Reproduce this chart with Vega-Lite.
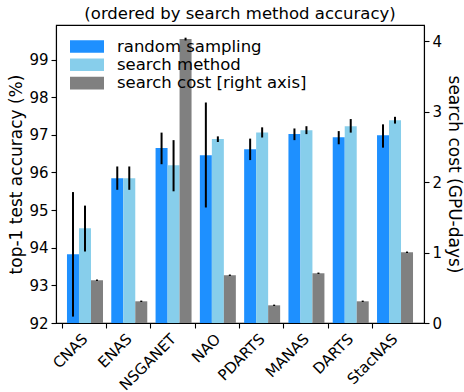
{
  "$schema": "https://vega.github.io/schema/vega-lite/v6.json",
  "autosize": {"type": "none"},
  "width": 368,
  "height": 298,
  "padding": {"left": 56, "top": 25, "right": 40, "bottom": 69},
  "title": {
    "text": "(ordered by search method accuracy)",
    "fontSize": 16.5,
    "fontWeight": "normal",
    "color": "black",
    "offset": 3
  },
  "datasets": {
    "acc": [
      {"method": "CNAS", "series": "random sampling", "value": 93.83, "lo": 92.17, "hi": 95.48},
      {"method": "CNAS", "series": "search method", "value": 94.52, "lo": 93.9, "hi": 95.12},
      {"method": "ENAS", "series": "random sampling", "value": 95.85, "lo": 95.54, "hi": 96.16},
      {"method": "ENAS", "series": "search method", "value": 95.85, "lo": 95.54, "hi": 96.16},
      {"method": "NSGANET", "series": "random sampling", "value": 96.65, "lo": 96.22, "hi": 97.06},
      {"method": "NSGANET", "series": "search method", "value": 96.19, "lo": 95.5, "hi": 96.86},
      {"method": "NAO", "series": "random sampling", "value": 96.46, "lo": 95.07, "hi": 97.86},
      {"method": "NAO", "series": "search method", "value": 96.89, "lo": 96.81, "hi": 96.96},
      {"method": "PDARTS", "series": "random sampling", "value": 96.62, "lo": 96.33, "hi": 96.9},
      {"method": "PDARTS", "series": "search method", "value": 97.06, "lo": 96.93, "hi": 97.2},
      {"method": "MANAS", "series": "random sampling", "value": 97.02, "lo": 96.86, "hi": 97.17},
      {"method": "MANAS", "series": "search method", "value": 97.12, "lo": 97.02, "hi": 97.23},
      {"method": "DARTS", "series": "random sampling", "value": 96.94, "lo": 96.75, "hi": 97.1},
      {"method": "DARTS", "series": "search method", "value": 97.23, "lo": 97.06, "hi": 97.42},
      {"method": "StacNAS", "series": "random sampling", "value": 96.99, "lo": 96.66, "hi": 97.28},
      {"method": "StacNAS", "series": "search method", "value": 97.39, "lo": 97.3, "hi": 97.48}
    ],
    "cost": [
      {"method": "CNAS", "series": "search cost [right axis]", "value": 0.607, "lo": 0.597, "hi": 0.617},
      {"method": "ENAS", "series": "search cost [right axis]", "value": 0.308, "lo": 0.298, "hi": 0.318},
      {"method": "NSGANET", "series": "search cost [right axis]", "value": 4.03, "lo": 4.01, "hi": 4.05},
      {"method": "NAO", "series": "search cost [right axis]", "value": 0.678, "lo": 0.668, "hi": 0.688},
      {"method": "PDARTS", "series": "search cost [right axis]", "value": 0.251, "lo": 0.241, "hi": 0.261},
      {"method": "MANAS", "series": "search cost [right axis]", "value": 0.706, "lo": 0.696, "hi": 0.716},
      {"method": "DARTS", "series": "search cost [right axis]", "value": 0.308, "lo": 0.298, "hi": 0.318},
      {"method": "StacNAS", "series": "search cost [right axis]", "value": 1.004, "lo": 0.994, "hi": 1.014}
    ]
  },
  "encoding": {
    "x": {
      "field": "method",
      "type": "nominal",
      "sort": ["CNAS", "ENAS", "NSGANET", "NAO", "PDARTS", "MANAS", "DARTS", "StacNAS"],
      "scale": {"paddingInner": 0.1874, "paddingOuter": 0.248},
      "axis": {
        "title": null,
        "labelAngle": -45,
        "labelAlign": "right",
        "labelBaseline": "middle",
        "labelFontSize": 15,
        "bandPosition": -0.13,
        "labelOffset": 0,
        "labelPadding": 8
      }
    },
    "xOffset": {
      "field": "series",
      "type": "nominal",
      "scale": {
        "domain": ["random sampling", "search method", "search cost [right axis]"],
        "paddingInner": 0,
        "paddingOuter": 0
      }
    }
  },
  "layer": [
    {
      "data": {"name": "acc"},
      "layer": [
        {
          "mark": {"type": "bar"},
          "encoding": {
            "y": {
              "field": "value",
              "type": "quantitative",
              "title": "top-1 test accuracy (%)",
              "scale": {"domain": [92, 99.92], "zero": false, "nice": false},
              "axis": {"orient": "left", "values": [92, 93, 94, 95, 96, 97, 98, 99]}
            },
            "y2": {"datum": 92},
            "color": {
              "field": "series",
              "type": "nominal",
              "scale": {
                "domain": ["random sampling", "search method", "search cost [right axis]"],
                "range": ["#1e90ff", "#87ceeb", "#808080"]
              },
              "legend": {
                "title": null,
                "orient": "top-left",
                "offset": 14,
                "padding": 0,
                "symbolType": "M-1,-0.37H1V0.37H-1Z",
                "symbolSize": 1156,
                "symbolStrokeWidth": 0,
                "symbolOpacity": 1,
                "clipHeight": 15,
                "rowPadding": 1.3,
                "labelFontSize": 16.5,
                "labelLimit": 0,
                "labelOffset": 13,
                "labelColor": "black"
              }
            }
          }
        },
        {
          "mark": {"type": "rule", "color": "black", "strokeWidth": 2},
          "encoding": {
            "y": {
              "field": "lo",
              "type": "quantitative",
              "title": "top-1 test accuracy (%)",
              "scale": {"domain": [92, 99.92], "zero": false, "nice": false},
              "axis": {"orient": "left", "values": [92, 93, 94, 95, 96, 97, 98, 99]}
            },
            "y2": {"field": "hi"}
          }
        }
      ]
    },
    {
      "data": {"name": "cost"},
      "layer": [
        {
          "mark": {"type": "bar"},
          "encoding": {
            "y": {
              "field": "value",
              "type": "quantitative",
              "title": "search cost (GPU-days)",
              "scale": {"domain": [0, 4.23], "nice": false},
              "axis": {"orient": "right", "values": [0, 1, 2, 3, 4]}
            },
            "y2": {"datum": 0},
            "color": {"field": "series", "type": "nominal"}
          }
        },
        {
          "mark": {"type": "rule", "color": "black", "strokeWidth": 2},
          "encoding": {
            "y": {
              "field": "lo",
              "type": "quantitative",
              "title": "search cost (GPU-days)",
              "scale": {"domain": [0, 4.23], "nice": false},
              "axis": {"orient": "right", "values": [0, 1, 2, 3, 4]}
            },
            "y2": {"field": "hi"}
          }
        }
      ]
    }
  ],
  "resolve": {"scale": {"y": "independent"}, "axis": {"y": "independent"}},
  "config": {
    "font": "DejaVu Sans",
    "view": {"stroke": "black", "strokeWidth": 1.1},
    "axis": {
      "grid": false,
      "domainColor": "black",
      "domainWidth": 1.1,
      "tickColor": "black",
      "tickWidth": 1.1,
      "tickSize": 5,
      "labelColor": "black",
      "labelFontSize": 15,
      "titleColor": "black",
      "titleFontSize": 17,
      "titleFontWeight": "normal",
      "labelPadding": 3,
      "titlePadding": 3
    }
  }
}
